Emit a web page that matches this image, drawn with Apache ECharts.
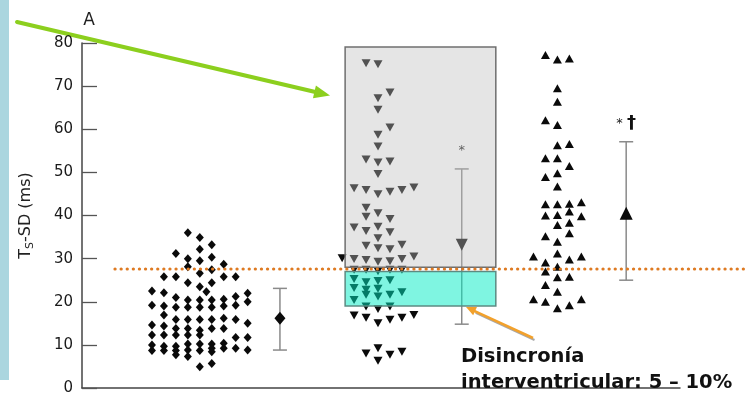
<!DOCTYPE html>
<html>
<head>
<meta charset="utf-8">
<script src="https://cdn.jsdelivr.net/npm/echarts/dist/echarts.min.js"></script>
<style>
  html, body { margin: 0; padding: 0; background: #ffffff; }
  #chart { width: 746px; height: 405px; }
</style>
</head>
<body>
<div id="chart"></div>
<script>
// ---- data -------------------------------------------------------------
// y axis (TS-SD, ms)
const yMin = 0;
const yMax = 80;
const yStep = 10;

// horizontal centre of each dot-plot group and spacing between its columns
const groupCenters = [19.7, 49.5, 79.5];
const columnStep = 2;

// group 1 (diamonds): [column offset, values in that column]
const groupDiamonds = [
  [-4, [22.5, 19.2, 14.6, 12.3, 10.0, 8.7]],
  [-3, [25.8, 22.1, 19.0, 16.9, 14.4, 12.3, 9.7, 8.7]],
  [-2, [31.2, 25.8, 21.0, 18.7, 15.9, 13.8, 12.3, 9.7, 8.7, 7.7]],
  [-1, [36.0, 30.0, 28.1, 24.4, 20.4, 18.7, 15.9, 13.8, 12.3, 10.2, 8.8, 7.3]],
  [0, [34.9, 32.2, 29.5, 26.6, 23.5, 20.4, 18.7, 15.9, 13.4, 12.3, 10.2, 8.7, 4.9]],
  [0.55, [22.3]],
  [1, [33.2, 30.3, 27.4, 24.4, 20.4, 18.7, 15.9, 13.8, 10.2, 9.2, 8.4, 5.7]],
  [2, [28.7, 25.8, 20.6, 19.0, 16.2, 13.8, 10.4, 9.2]],
  [3, [25.8, 21.2, 19.2, 15.9, 11.7, 9.2]],
  [4, [22.0, 20.0, 15.0, 11.7, 8.8]]
];

// group 2 (downward triangles)
const groupDown = [
  [-3, [30.1]],
  [-2, [46.3, 37.2, 29.9, 27.4, 25.3, 23.2, 20.4, 16.8]],
  [-1, [75.3, 53.0, 45.9, 41.8, 39.7, 36.4, 33.0, 29.7, 27.4, 24.5, 22.8, 21.6, 18.9, 16.3, 8.0]],
  [0, [75.1, 67.2, 64.5, 58.7, 56.0, 52.3, 49.6, 44.9, 40.5, 37.4, 34.7, 32.4, 29.3, 27.1, 24.8, 23.0, 21.2, 18.3, 15.0, 9.2, 6.3]],
  [1, [68.5, 60.4, 52.5, 45.5, 39.2, 36.1, 32.2, 29.4, 27.4, 25.0, 21.6, 18.9, 15.8, 7.7]],
  [2, [45.9, 33.2, 29.9, 27.4, 22.2, 16.3, 8.4]],
  [3, [46.5, 30.5, 16.9]]
];

// group 3 (upward triangles)
const groupUp = [
  [-2, [30.5, 20.6]],
  [-1, [77.2, 62.1, 53.3, 48.9, 42.6, 40.0, 35.2, 29.1, 27.0, 23.9, 20.0]],
  [0, [76.2, 69.5, 66.4, 61.0, 56.3, 53.3, 49.8, 46.7, 42.6, 40.1, 37.8, 33.9, 31.2, 28.1, 25.7, 22.3, 18.5]],
  [1, [76.4, 56.6, 51.5, 42.7, 40.9, 38.3, 35.9, 29.8, 25.8, 19.2]],
  [2, [43.1, 39.8, 30.5, 20.6]]
];

// mean and spread of each group
const summaryX = [33.1, 63.5, 91.0];
const summaryLow = [8.8, 14.8, 25.0];
const summaryMean = [16.2, 33.2, 40.5];
const summaryHigh = [23.1, 50.8, 57.1];
const summaryNotes = ['', '*', '* \u2020'];

// highlighted ranges
const bandX = [44.0, 69.2];
const upperBand = [28.0, 79.1];
const lowerBand = [19.0, 27.0];

// cut-off level
const cutoffValue = 27.6;

// ---- helpers ----------------------------------------------------------
function columnsToPoints(cols, center) {
  const out = [];
  cols.forEach(function (col) {
    col[1].forEach(function (v) { out.push([center + col[0] * columnStep, v]); });
  });
  return out;
}

function arrowShapes(x0, y0, x1, y1, headLen, headHalf) {
  const ang = Math.atan2(y1 - y0, x1 - x0);
  const c = Math.cos(ang), s = Math.sin(ang);
  const bx = x1 - headLen * c, by = y1 - headLen * s;
  return {
    line: [x0, y0, bx + 1 * c, by + 1 * s],
    head: [[x1, y1], [bx - headHalf * s, by + headHalf * c], [bx + headHalf * s, by - headHalf * c]]
  };
}

const font = "'DejaVu Sans', 'Noto Sans', sans-serif";
const markColor = '#0a0a0a';
const bandStyles = [
  { fill: 'rgba(190,190,190,0.40)', stroke: '#6f6f6f' },
  { fill: 'rgba(0,235,195,0.50)', stroke: '#5d8a82' }
];

// ---- chart ------------------------------------------------------------
const chart = echarts.init(document.getElementById('chart'), null, { renderer: 'canvas' });

const greenArrow = arrowShapes(17, 22, 330, 95.5, 16, 6.5);
const orangeArrow = arrowShapes(533, 338, 466, 307, 10, 4.5);

const option = {
  animation: false,
  backgroundColor: '#ffffff',
  grid: { left: 82, right: 66, top: 43, bottom: 17, containLabel: false },
  xAxis: {
    type: 'value', min: 0, max: 100,
    axisLine: { show: true, lineStyle: { color: '#444', width: 1.5 } },
    axisTick: { show: false }, axisLabel: { show: false }, splitLine: { show: false }
  },
  yAxis: {
    type: 'value', min: yMin, max: yMax, interval: yStep,
    name: '{t|T}{s|S}{t|-SD (ms)}',
    nameLocation: 'middle', nameRotate: 90, nameGap: 45,
    nameTextStyle: {
      rich: {
        t: { fontFamily: font, fontSize: 16, color: '#222', lineHeight: 22 },
        s: { fontFamily: font, fontSize: 11, color: '#222', lineHeight: 22, padding: [9, 0, 0, 0] }
      }
    },
    axisLine: { show: true, lineStyle: { color: '#444', width: 1.5 } },
    axisTick: { show: true, inside: true, length: 15, lineStyle: { color: '#555', width: 1.3 } },
    axisLabel: { fontFamily: font, fontSize: 15, color: '#1a1a1a', margin: 9 },
    splitLine: { show: false }
  },
  series: [
    {
      type: 'scatter', z: 2, symbol: 'diamond', symbolSize: [8, 9],
      itemStyle: { color: markColor, opacity: 1 },
      data: columnsToPoints(groupDiamonds, groupCenters[0])
    },
    {
      type: 'scatter', z: 2, symbol: 'triangle', symbolRotate: 180, symbolSize: [9, 8],
      itemStyle: { color: markColor, opacity: 1 },
      data: columnsToPoints(groupDown, groupCenters[1])
    },
    {
      type: 'scatter', z: 2, symbol: 'triangle', symbolSize: [9, 8],
      itemStyle: { color: markColor, opacity: 1 },
      data: columnsToPoints(groupUp, groupCenters[2])
    },
    {
      type: 'custom', z: 2,
      encode: { x: 0, y: [1, 3] },
      data: summaryX.map(function (x, i) { return [x, summaryLow[i], summaryMean[i], summaryHigh[i]]; }),
      renderItem: function (params, api) {
        const x = api.value(0);
        const lo = api.coord([x, api.value(1)]);
        const hi = api.coord([x, api.value(3)]);
        const cap = 7;
        const stroke = { stroke: '#8a8a8a', lineWidth: 1.5 };
        const kids = [
          { type: 'line', shape: { x1: lo[0], y1: lo[1], x2: hi[0], y2: hi[1] }, style: stroke },
          { type: 'line', shape: { x1: lo[0] - cap, y1: lo[1], x2: lo[0] + cap, y2: lo[1] }, style: stroke },
          { type: 'line', shape: { x1: hi[0] - cap, y1: hi[1], x2: hi[0] + cap, y2: hi[1] }, style: stroke }
        ];
        const note = summaryNotes[params.dataIndex];
        if (note) {
          kids.push({
            type: 'text', x: hi[0], y: hi[1] - 18,
            style: {
              text: note.replace('*', '{s|*}').replace('\u2020', '{d|\u2020}'),
              align: 'center', verticalAlign: 'middle',
              rich: {
                s: { fontFamily: font, fontSize: 13, fill: '#222' },
                d: { fontFamily: font, fontSize: 18, fontWeight: 'bold', fill: '#111' }
              },
              fontFamily: font, fontSize: 13, fill: '#222'
            }
          });
        }
        return { type: 'group', children: kids };
      }
    },
    {
      type: 'scatter', z: 2,
      itemStyle: { color: markColor, opacity: 1 },
      data: [
        { value: [summaryX[0], summaryMean[0]], symbol: 'diamond', symbolSize: [11, 13] },
        { value: [summaryX[1], summaryMean[1]], symbol: 'triangle', symbolRotate: 180, symbolSize: [12, 12] },
        { value: [summaryX[2], summaryMean[2]], symbol: 'triangle', symbolSize: [13, 13] }
      ]
    },
    {
      type: 'custom', z: 4,
      encode: { x: [0, 1], y: [2, 3] },
      data: [
        [bandX[0], bandX[1], upperBand[0], upperBand[1]],
        [bandX[0], bandX[1], lowerBand[0], lowerBand[1]]
      ],
      renderItem: function (params, api) {
        const p0 = api.coord([api.value(0), api.value(3)]);
        const p1 = api.coord([api.value(1), api.value(2)]);
        const st = bandStyles[params.dataIndex];
        return {
          type: 'rect',
          shape: { x: p0[0], y: p0[1], width: p1[0] - p0[0], height: p1[1] - p0[1] },
          style: { fill: st.fill, stroke: st.stroke, lineWidth: 1.5 }
        };
      }
    }
  ],
  graphic: [
    { type: 'rect', left: 0, top: 0, shape: { width: 9, height: 380 }, style: { fill: '#abd6df' }, silent: true },
    { type: 'text', x: 89, y: 21, style: { text: 'A', fontFamily: font, fontSize: 17, fill: '#222', align: 'center', verticalAlign: 'middle' }, z: 10 },
    {
      type: 'group', z: 20, children: [
        { type: 'line', shape: { x1: greenArrow.line[0], y1: greenArrow.line[1], x2: greenArrow.line[2], y2: greenArrow.line[3] }, style: { stroke: '#8ccf1e', lineWidth: 4, lineCap: 'round' } },
        { type: 'polygon', shape: { points: greenArrow.head }, style: { fill: '#8ccf1e' } }
      ]
    },
    {
      type: 'group', z: 20, children: [
        { type: 'line', shape: { x1: orangeArrow.line[0] + 1.5, y1: orangeArrow.line[1] + 2, x2: orangeArrow.line[2] + 1.5, y2: orangeArrow.line[3] + 2 }, style: { stroke: '#a8a8a8', lineWidth: 2 } },
        { type: 'line', shape: { x1: orangeArrow.line[0], y1: orangeArrow.line[1], x2: orangeArrow.line[2], y2: orangeArrow.line[3] }, style: { stroke: '#f2a12c', lineWidth: 2.5 } },
        { type: 'polygon', shape: { points: orangeArrow.head }, style: { fill: '#f2a12c' } }
      ]
    },
    { type: 'text', z: 20, x: 461, y: 357, style: { text: 'Disincronía', fontFamily: font, fontSize: 19.5, fontWeight: 'bold', fill: '#111', verticalAlign: 'middle' } },
    { type: 'text', z: 20, x: 461, y: 383, style: { text: 'interventricular: 5 \u2013 10%', fontFamily: font, fontSize: 19.5, fontWeight: 'bold', fill: '#111', verticalAlign: 'middle' } }
  ]
};

chart.setOption(option);

// dotted cut-off line, running past the plot to the right edge
const cutoffY = chart.convertToPixel({ yAxisIndex: 0 }, cutoffValue);
chart.setOption({
  graphic: [
    {
      id: 'cutoff', type: 'line', z: 15, silent: true,
      shape: { x1: 115, y1: cutoffY, x2: 746, y2: cutoffY },
      style: { stroke: '#de7a22', lineWidth: 3.2, lineDash: [0.1, 6], lineCap: 'round' }
    }
  ]
});
</script>
</body>
</html>
